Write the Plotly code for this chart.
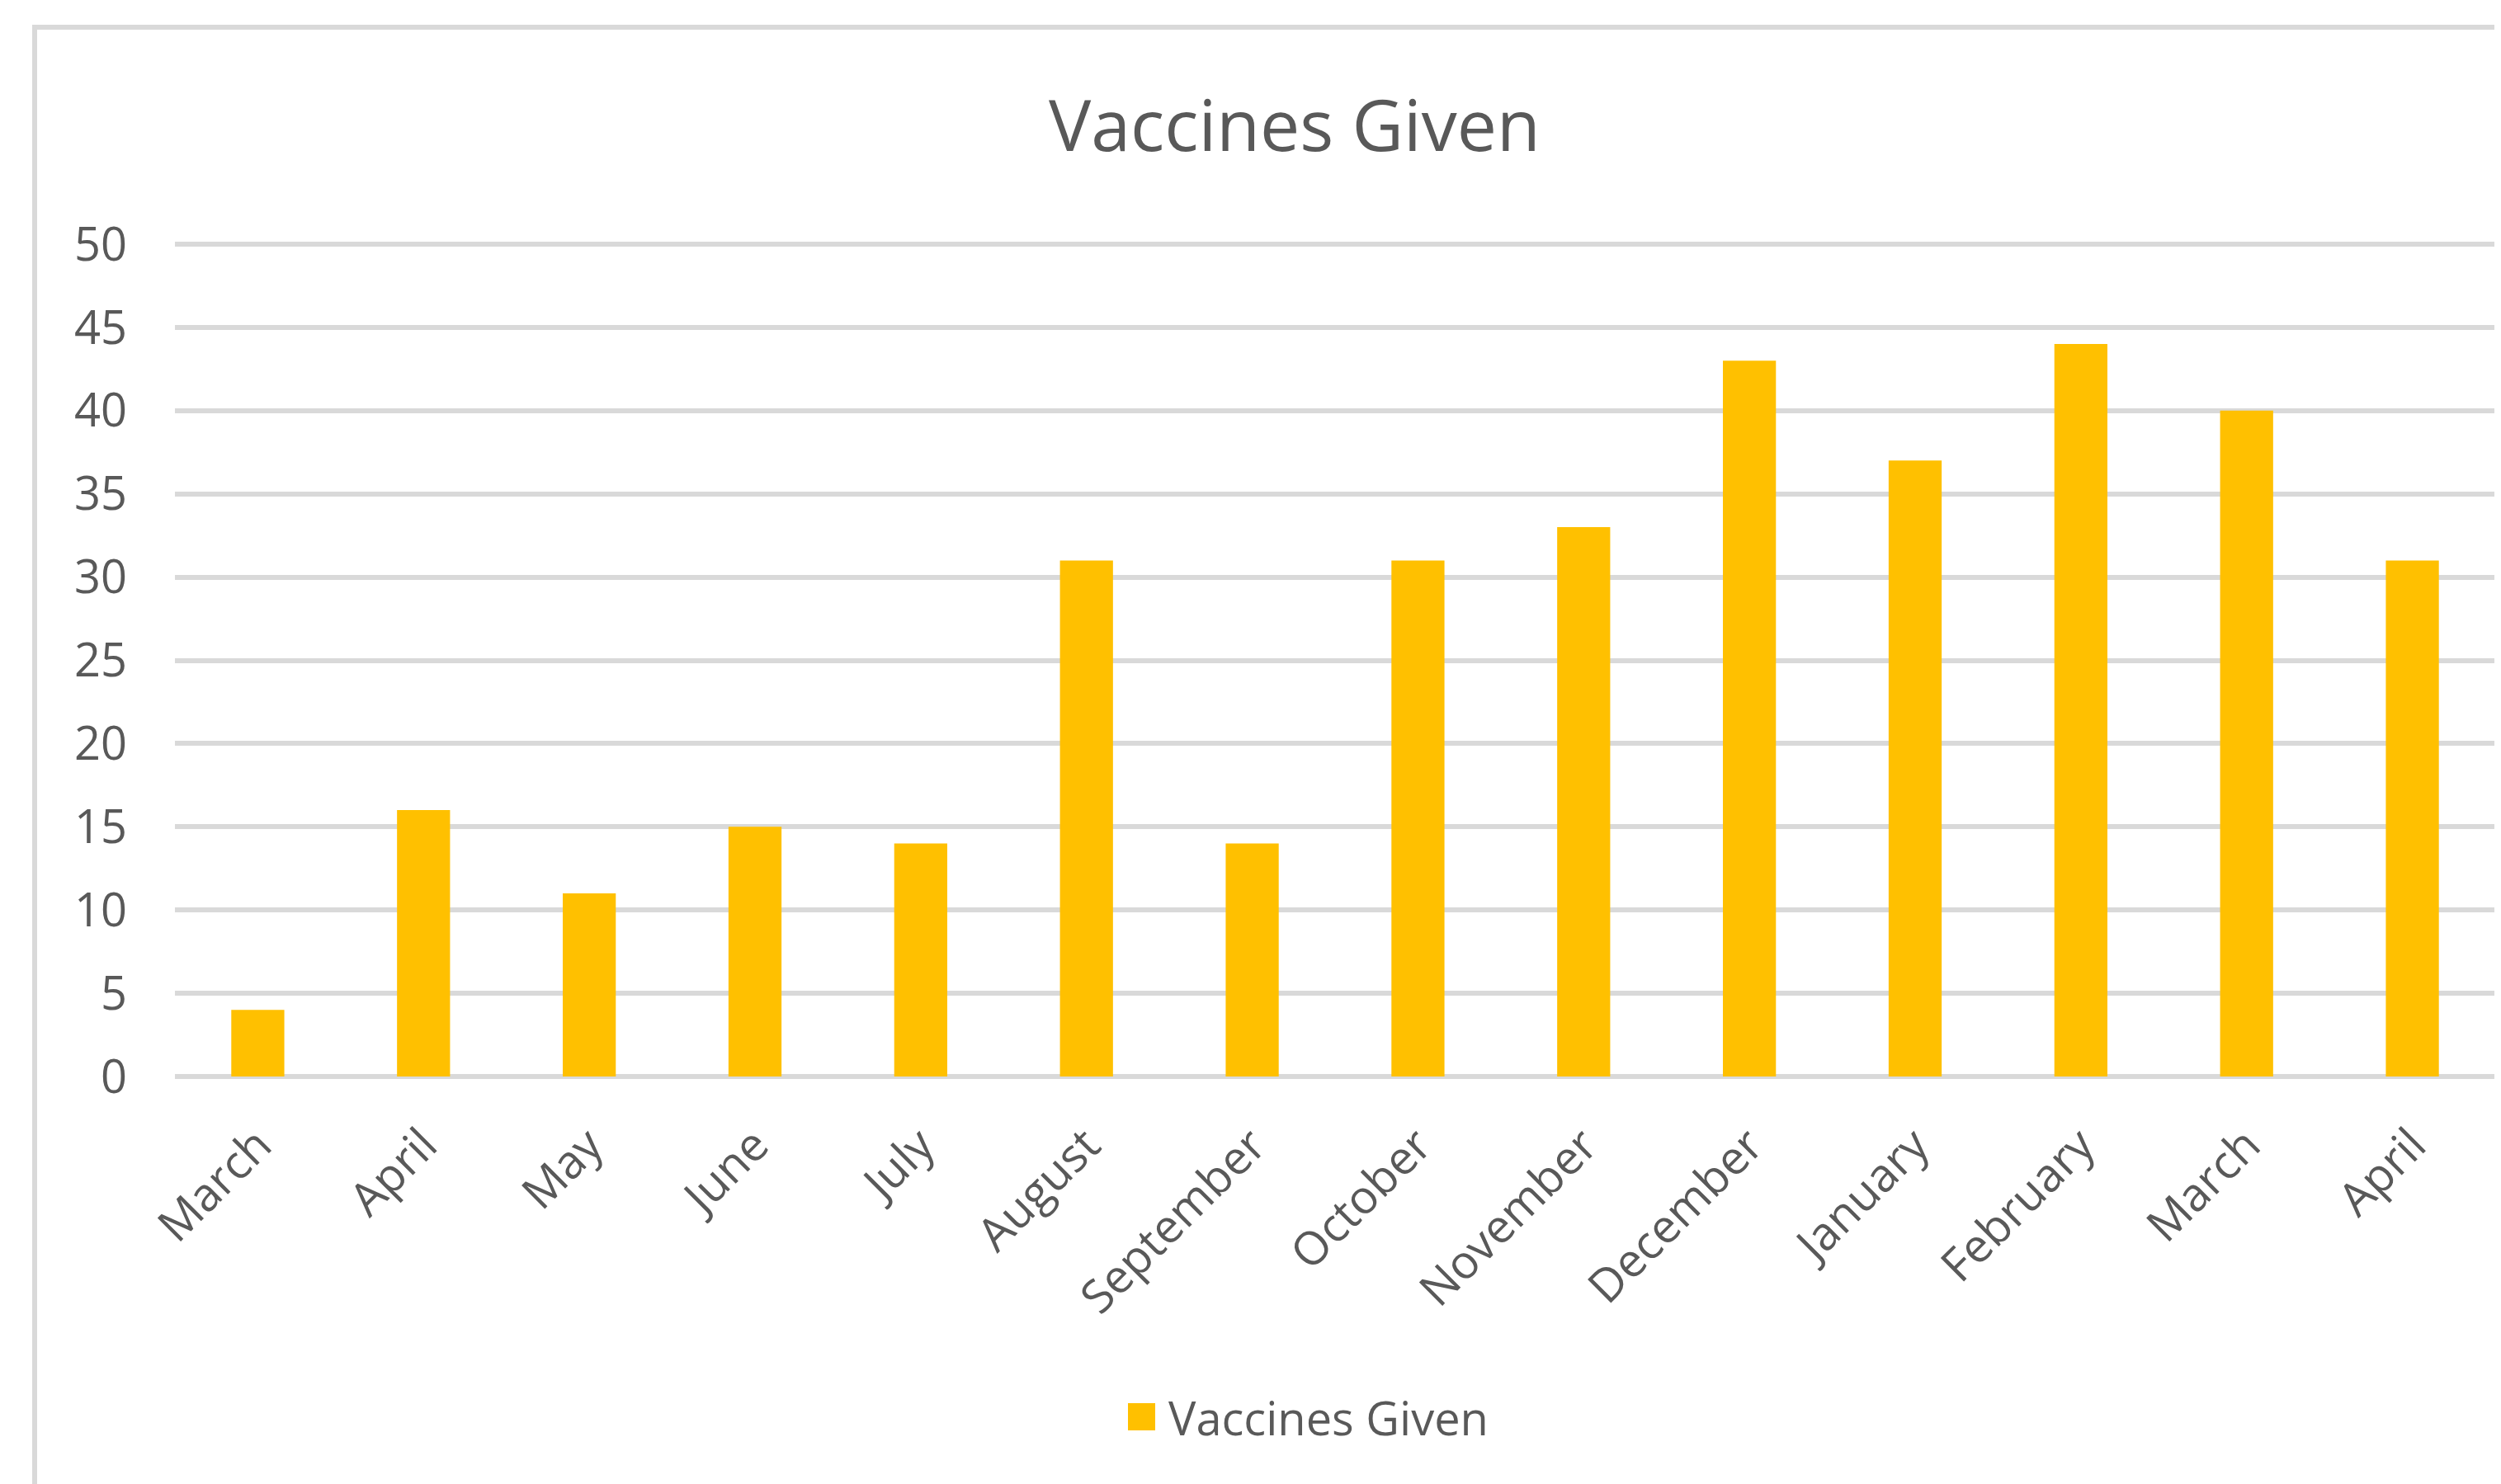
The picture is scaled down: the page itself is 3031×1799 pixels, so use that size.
import plotly.graph_objects as go

months = ["March", "April", "May", "June", "July", "August", "September",
          "October", "November", "December", "January", "February", "March", "April"]
vaccines_given = [4, 16, 11, 15, 14, 31, 14, 31, 33, 43, 37, 44, 40, 31]
y_ticks = [0, 5, 10, 15, 20, 25, 30, 35, 40, 45, 50]
series_name = "Vaccines Given"
title_text = "Vaccines Given"

# the page body adds an 8px offset; compensate so the photo lines up
OFF = 8
W, H = 3031 - OFF, 1799 - OFF

# target pixel positions (in the photo) of the value axis ends
Y0_PX, YMAX_PX = 1305, 296
YMAX = 50
PAD = 5  # pixels of padding so the edge gridlines are drawn
ppu = (Y0_PX - YMAX_PX) / YMAX
pad_u = PAD / ppu

L = 212 - OFF
R = 7
T = (YMAX_PX - PAD) - OFF
B = H - ((Y0_PX + PAD) - OFF)
PW, PH = W - L - R, H - T - B

def px_x(p):
    return (p - OFF - L) / PW

def px_y(p):
    return (H - B - (p - OFF)) / PH

TXT = "#595959"
GRID = "#d9d9d9"
BAR = "#FFC000"
FONT = "Open Sans"

x_pos = list(range(len(months)))

fig = go.Figure()
fig.add_trace(go.Bar(x=x_pos, y=vaccines_given, name=series_name,
                     marker=dict(color=BAR, line=dict(width=0)), width=0.32,
                     showlegend=False))

fig.update_layout(
    width=W, height=H,
    margin=dict(l=L, r=R, t=T, b=B, autoexpand=False),
    paper_bgcolor="white", plot_bgcolor="white",
    font=dict(family=FONT, color=TXT, size=56),
    showlegend=False,
)
fig.update_xaxes(range=[-0.5, len(months) - 0.5], tickvals=x_pos, ticktext=months,
                 tickangle=-45, showgrid=False, zeroline=False, showline=False,
                 ticks="", ticklabelstandoff=38 - PAD, automargin=False,
                 tickfont=dict(family=FONT, size=56, color=TXT))
fig.update_yaxes(range=[-pad_u, YMAX + pad_u], tickvals=y_ticks, showgrid=True,
                 gridcolor=GRID, gridwidth=6, zeroline=False, showline=False, ticks="",
                 ticklabelstandoff=57, automargin=False,
                 tickfont=dict(family=FONT, size=56, color=TXT))

# chart-area border
fig.add_shape(type="rect", xref="paper", yref="paper",
              x0=px_x(42), x1=px_x(3060), y0=px_y(1830), y1=px_y(33),
              line=dict(color=GRID, width=6), fillcolor="rgba(0,0,0,0)", layer="below")

# title
fig.add_annotation(text=title_text, xref="paper", yref="paper",
                   x=px_x(1569), y=px_y(150), xanchor="center", yanchor="middle",
                   showarrow=False, font=dict(family=FONT, size=86, color=TXT))

# legend (manual)
fig.add_shape(type="rect", xref="paper", yref="paper",
              x0=px_x(1367), x1=px_x(1400), y0=px_y(1734), y1=px_y(1701),
              line=dict(width=0), fillcolor=BAR)
fig.add_annotation(text=series_name, xref="paper", yref="paper",
                   x=px_x(1414), y=px_y(1718), xanchor="left", yanchor="middle",
                   showarrow=False, font=dict(family=FONT, size=56, color=TXT))

fig.write_html("out.html")
